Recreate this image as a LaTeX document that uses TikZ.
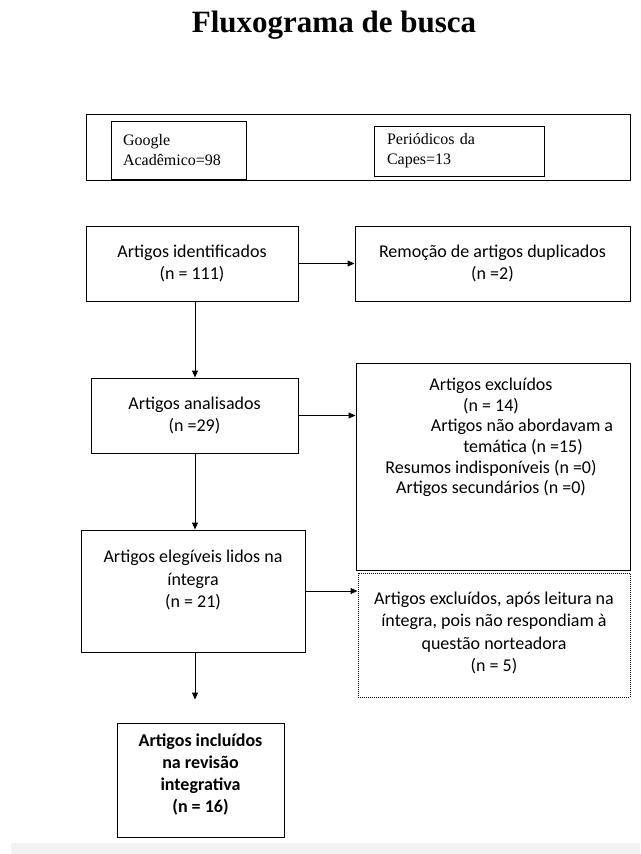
\documentclass[tikz,border=0pt]{standalone}
\usepackage{fontspec}
\setmainfont{Carlito}
\newfontfamily\timesfont{Liberation Serif}
\usetikzlibrary{arrows.meta}
\tikzset{
  caixa/.style={draw, line width=1pt, inner sep=0pt},
  texto/.style={align=center, inner sep=0pt, font=\fontsize{18}{22.5}\selectfont},
  fonte/.style={align=left, inner sep=0pt, font=\timesfont\fontsize{16}{20}\selectfont},
  seta/.style={-{Triangle[length=7pt,width=6pt]}, line width=1pt},
}

\begin{document}
\begin{tikzpicture}[x=1pt,y=-1pt]
\useasboundingbox (0,0) rectangle (640,854);
\fill[black!5] (11,843) rectangle (640,854);

\node[font=\timesfont\bfseries\fontsize{31}{37}\selectfont] (titulo) at (334,25) {Fluxograma de busca};

% bases de dados
\node[caixa, minimum width=544, minimum height=66] (bases) at (358,147) {};
\node[caixa, fonte, minimum width=135, minimum height=58, text width=111] (google) at (178.5,150) {Google\\Acadêmico=98};
\node[caixa, fonte, minimum width=170, minimum height=50, text width=144] (capes) at (459,151) {Periódicos da\\Capes=13};

% coluna da esquerda
\node[caixa, texto, minimum width=212, minimum height=75] (ident) at (192,263.5) {Artigos identificados\\(n = 111)};
\node[caixa, texto, minimum width=207, minimum height=75] (anal) at (194.5,415.5) {Artigos analisados\\(n =29)};
\node[caixa, minimum width=224, minimum height=122] (eleg) at (193,591) {};
\node[texto] (elegtxt) at (193,580) {Artigos elegíveis lidos na\\íntegra\\(n = 21)};
\node[caixa, minimum width=167, minimum height=114] (incl) at (200.5,780) {};
\node[texto, font=\bfseries\fontsize{18}{22}\selectfont] (incltxt) at (200.5,775) {Artigos incluídos\\na revisão\\integrativa\\(n = 16)};

% coluna da direita
\node[caixa, texto, minimum width=275, minimum height=75] (dupl) at (492.5,263.5) {Remoção de artigos duplicados\\(n =2)};
\node[caixa, minimum width=274, minimum height=207] (excl) at (493,466.5) {};
\node[texto, font=\fontsize{18}{20.6}\selectfont] (excltxt) at (491,437.5) {Artigos excluídos\\(n = 14)\\\hspace*{62pt}Artigos não abordavam a\\\hspace*{64pt}temática (n =15)\\Resumos indisponíveis (n =0)\\Artigos secundários (n =0)};
\node[draw, densely dotted, line width=1pt, inner sep=0pt, minimum width=272, minimum height=124] (leit) at (494,635) {};
\node[texto] (leittxt) at (494,633) {Artigos excluídos, após leitura na\\íntegra, pois não respondiam à\\questão norteadora\\(n = 5)};

% setas
\coordinate (eixo) at (195,0);
\draw[seta] (ident.east) -- (ident.east -| dupl.west);
\draw[seta] (anal.east) -- (anal.east -| excl.west);
\draw[seta] (eleg.east) -- (eleg.east -| leit.west);
\draw[seta] (eixo |- ident.south) -- (eixo |- anal.north);
\draw[seta] (eixo |- anal.south) -- (eixo |- eleg.north);
\draw[seta, shorten >=23pt] (eixo |- eleg.south) -- (eixo |- incl.north);
\end{tikzpicture}
\end{document}
